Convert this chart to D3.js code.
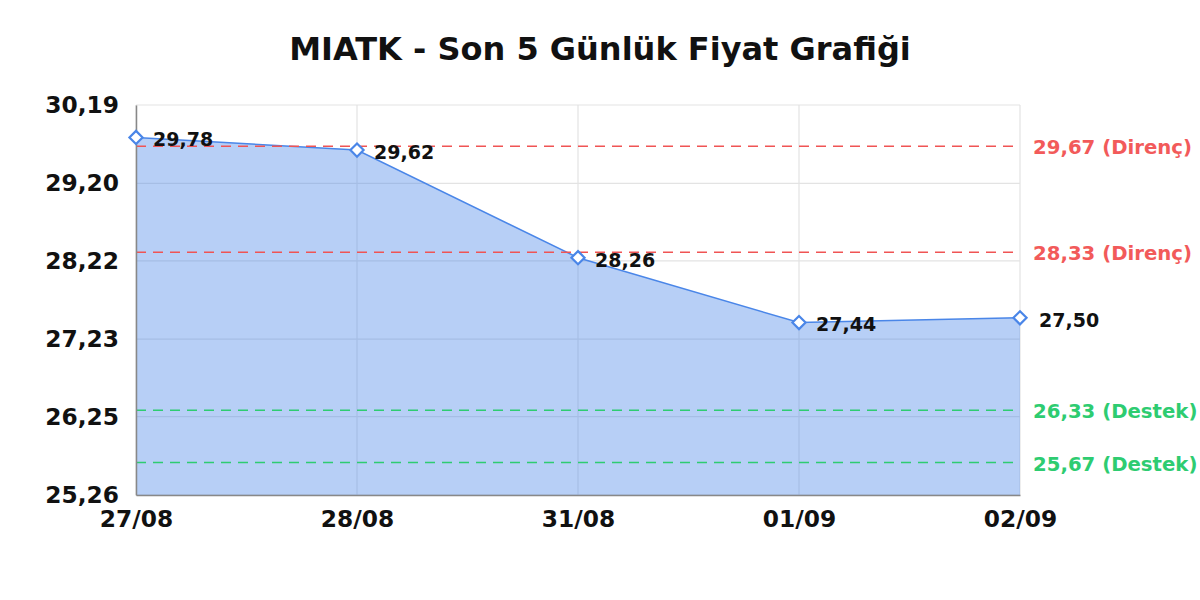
<!DOCTYPE html>
<html><head><meta charset="utf-8">
<script src="https://cdn.jsdelivr.net/npm/d3@7/dist/d3.min.js"></script>
<style>body{margin:0;background:#fff}svg{display:block}text{font-family:"DejaVu Sans",sans-serif;font-weight:bold}</style>
</head><body><svg id="c" width="1200" height="600"></svg>
<script>
const title = "MIATK - Son 5 Günlük Fiyat Grafiği";
const dates = ["27/08","28/08","31/08","01/09","02/09"];
const prices = [29.78, 29.62, 28.26, 27.44, 27.50];
const yTicks = [25.26, 26.25, 27.23, 28.22, 29.20, 30.19];
const resistance = [29.67, 28.33];
const support = [26.33, 25.67];

const fmt = v => v.toFixed(2).replace(".", ",");
const svg = d3.select("#c");
const L = 136, R = 1020, T = 105, B = 495;
const x = d3.scalePoint().domain(dates).range([L, R]);
const y = d3.scaleLinear().domain([yTicks[0], yTicks[yTicks.length-1]]).range([B, T]);
const data = dates.map((d,i)=>({d, v:prices[i]}));

// title
svg.append("text").attr("x", 600).attr("y", 60).attr("text-anchor","middle")
  .attr("font-size", 32).attr("fill","#111").text(title);

// grid
const g = svg.append("g");
g.selectAll(".hg").data(yTicks).join("line")
  .attr("x1", L).attr("x2", R).attr("y1", d=>y(d)).attr("y2", d=>y(d))
  .attr("stroke","#e3e3e3").attr("stroke-width",1.2);
g.selectAll(".vg").data(dates).join("line")
  .attr("x1", d=>x(d)).attr("x2", d=>x(d)).attr("y1", T).attr("y2", B)
  .attr("stroke","#e3e3e3").attr("stroke-width",1.2);

// area
svg.append("path").datum(data)
  .attr("d", d3.area().x(d=>x(d.d)).y0(B).y1(d=>y(d.v)))
  .attr("fill","#4a86e8").attr("fill-opacity",0.4);
svg.append("path").datum(data)
  .attr("d", d3.line().x(d=>x(d.d)).y(d=>y(d.v)))
  .attr("fill","none").attr("stroke","#4a86e8").attr("stroke-width",1.5);

// reference lines
const refs = resistance.map(v=>({v, c:"#f05454", tc:"#f25a5a", lab:" (Direnç)"}))
  .concat(support.map(v=>({v, c:"#2ecc71", tc:"#2ecc71", lab:" (Destek)"})));
svg.selectAll(".ref").data(refs).join("line")
  .attr("x1", L).attr("x2", R).attr("y1", d=>y(d.v)).attr("y2", d=>y(d.v))
  .attr("stroke", d=>d.c).attr("stroke-width",1.5).attr("stroke-dasharray","10,7");
svg.selectAll(".reft").data(refs).join("text")
  .attr("x", R+13).attr("y", d=>y(d.v)+1).attr("dy","0.36em")
  .attr("font-size", 19.7).attr("fill", d=>d.tc).text(d=>fmt(d.v)+d.lab);

// axes
const ya = svg.append("g").attr("transform",`translate(${L},0)`)
  .call(d3.axisLeft(y).tickValues(yTicks).tickFormat(fmt).tickSize(0).tickPadding(17));
ya.select(".domain").attr("stroke","#888").attr("stroke-width",1.5);
ya.selectAll("text").attr("font-size",23.3).attr("fill","#111").attr("font-family","DejaVu Sans").attr("font-weight","bold");
const xa = svg.append("g").attr("transform",`translate(0,${B})`)
  .call(d3.axisBottom(x).tickSize(0).tickPadding(15));
xa.select(".domain").attr("stroke","#888").attr("stroke-width",1.5);
xa.selectAll("text").attr("font-size",23.3).attr("fill","#111").attr("font-family","DejaVu Sans").attr("font-weight","bold");

// markers
const diamond = d3.symbol().type(d3.symbolDiamond2).size(110);
svg.selectAll(".mk").data(data).join("path")
  .attr("transform", d=>`translate(${x(d.d)},${y(d.v)})`)
  .attr("d", diamond).attr("fill","#fff").attr("stroke","#4a86e8").attr("stroke-width",2.2);

// point labels
svg.selectAll(".pl").data(data).join("text")
  .attr("x", d=>x(d.d)+ (d.d===dates[dates.length-1]?19:17)).attr("y", d=>y(d.v)+2).attr("dy","0.36em")
  .attr("font-size", 19).attr("fill","#111").text(d=>fmt(d.v));
</script></body></html>
